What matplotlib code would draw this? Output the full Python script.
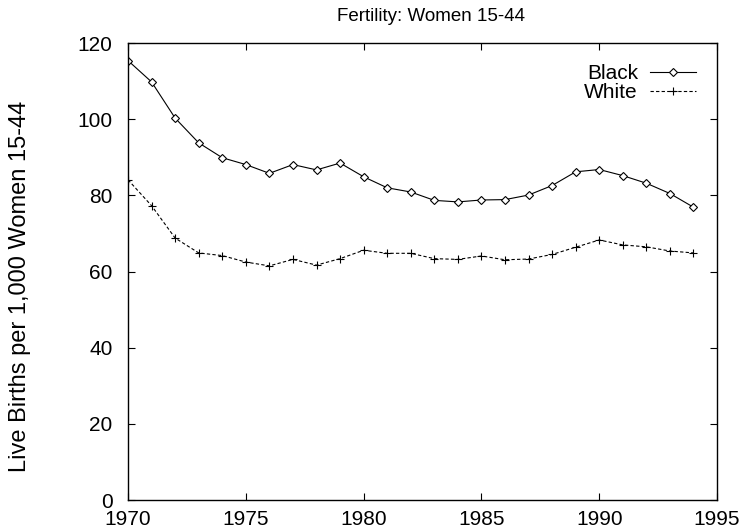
import matplotlib
matplotlib.use('Agg')
import matplotlib.pyplot as plt

plt.rcParams['font.family'] = ['Liberation Sans', 'DejaVu Sans']

# births per 1,000 women aged 15-44
years = list(range(1970, 1995))
black = [115.4, 109.8, 100.3, 93.8, 89.9, 88.1, 85.8, 88.1, 86.7, 88.5,
         84.9, 82.0, 80.9, 78.7, 78.3, 78.8, 78.9, 80.1, 82.6, 86.2,
         86.8, 85.2, 83.2, 80.5, 76.9]
white = [84.1, 77.3, 68.8, 64.9, 64.2, 62.5, 61.5, 63.2, 61.7, 63.4,
         65.6, 64.8, 64.8, 63.4, 63.2, 64.1, 63.1, 63.3, 64.5, 66.4,
         68.3, 67.0, 66.5, 65.4, 64.9]
xticks = [1970, 1975, 1980, 1985, 1990, 1995]
yticks = [0, 20, 40, 60, 80, 100, 120]

fig = plt.figure(figsize=(7.4, 5.32), dpi=100)
ax = fig.add_axes([0.173, 0.06, 0.796, 0.859])

ax.plot(years, black, '-', color='black', lw=0.8, marker='D', ms=4,
        mfc='white', mec='black', mew=0.8, label='Black')
ax.plot(years, white, '--', color='black', lw=0.8, dashes=(3, 2), marker='+',
        ms=6, mew=0.8, label='White')

ax.set_xlim(1970, 1995)
ax.set_ylim(0, 120)
ax.set_xticks(xticks)
ax.set_yticks(yticks)
ax.tick_params(direction='in', top=True, right=True, labelsize=15, length=5)
ax.tick_params(axis='y', pad=11)
ax.tick_params(axis='x', pad=7)
for s in ax.spines.values():
    s.set_linewidth(1.0)

ax.set_title('Fertility: Women 15-44', fontsize=13.5, pad=16, x=0.515)
ax.set_ylabel('Live Births per 1,000 Women 15-44', fontsize=17)
ax.yaxis.set_label_coords(-0.165, 0.468)

ax.legend(loc='upper right', frameon=False, markerfirst=False, fontsize=15,
          handlelength=2.2, labelspacing=0.0, borderaxespad=0.6, handletextpad=0.6)

fig.savefig('out.png', dpi=100)
